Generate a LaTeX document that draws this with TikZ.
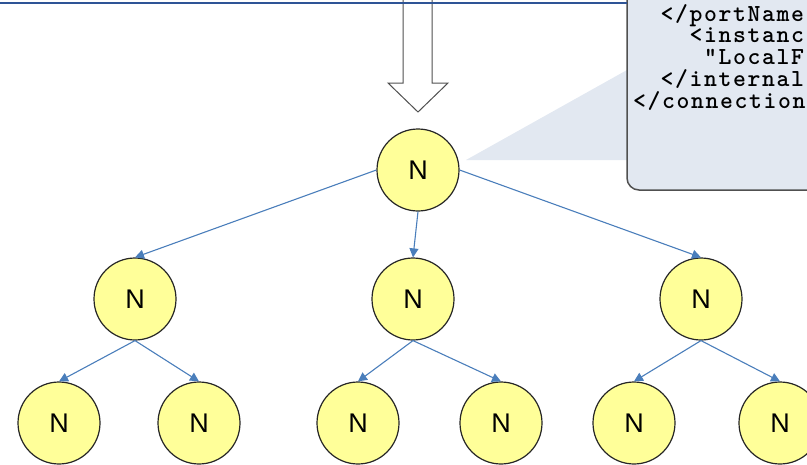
\documentclass[tikz,border=0pt]{standalone}
\usepackage{fontspec}
\newfontfamily\labelfont{Liberation Sans}
\newfontfamily\codefont{lmmonolt10-bold.otf}[LetterSpace=6.7]
\usetikzlibrary{arrows.meta}

\definecolor{nodefill}{RGB}{255,255,153}
\definecolor{edgeblue}{RGB}{74,126,187}
\definecolor{calloutfill}{RGB}{226,232,241}
\definecolor{framegray}{RGB}{80,80,80}
\definecolor{bannerblue}{RGB}{46,84,150}

% tight code lines in the callout
\setlength{\lineskiplimit}{-20pt}

\begin{document}
\begin{tikzpicture}[x=1pt,y=-1pt,
    tnode/.style={circle,draw=black!85,line width=1.2pt,fill=nodefill,
      minimum size=82pt,inner sep=0pt,font=\labelfont\fontsize{27}{30}\selectfont},
    edge/.style={draw=edgeblue,line width=1.1pt,-{Triangle[length=9pt,width=9pt]}},
    code/.style={anchor=base west,inner sep=0pt,align=left,
      font=\codefont\fontsize{24.5}{21.7}\selectfont}]
  \clip (0,0) rectangle (807,464);

  % callout with the xml snippet (base is the last line)
  \fill[calloutfill] (466,160) -- (627,70) -- (627,160) -- cycle;
  \draw[framegray,line width=1.5pt,fill=calloutfill,rounded corners=12pt]
    (627,-20) rectangle (840,190);
  \node[code] (snippet) at (633,108)
    {\phantom{xx}</portName\\\phantom{xxxx}<instanc\\\phantom{xxxxx}"LocalF\\%
     \phantom{xx}</internal\\</connection};

  % hollow arrow coming down from the box above
  \draw[framegray,line width=1pt,fill=white]
    (403,0) -- (403,83) -- (388,83) -- (418,112) -- (448,83) -- (432,83) -- (432,0);
  \draw[bannerblue,line width=2pt] (0,3) -- (627,3);

  % the tree
  \node[tnode] (root) at (418,170) {N};
  \foreach \x [count=\i] in {135,413,701}
    \node[tnode] (mid-\i) at (\x,299) {N};
  \foreach \x [count=\i] in {59,199,358,501,634,780}
    \node[tnode] (leaf-\i) at (\x,423) {N};

  \draw[edge] (root.west) -- (mid-1.north);
  \draw[edge] (root.south) -- (mid-2.north);
  \draw[edge] (root.east) -- (mid-3.north);
  \foreach \p [evaluate={\a=int(2*\p-1); \b=int(2*\p);}] in {1,2,3}{
    \draw[edge] (mid-\p.south) -- (leaf-\a.north);
    \draw[edge] (mid-\p.south) -- (leaf-\b.north);
  }
\end{tikzpicture}
\end{document}
